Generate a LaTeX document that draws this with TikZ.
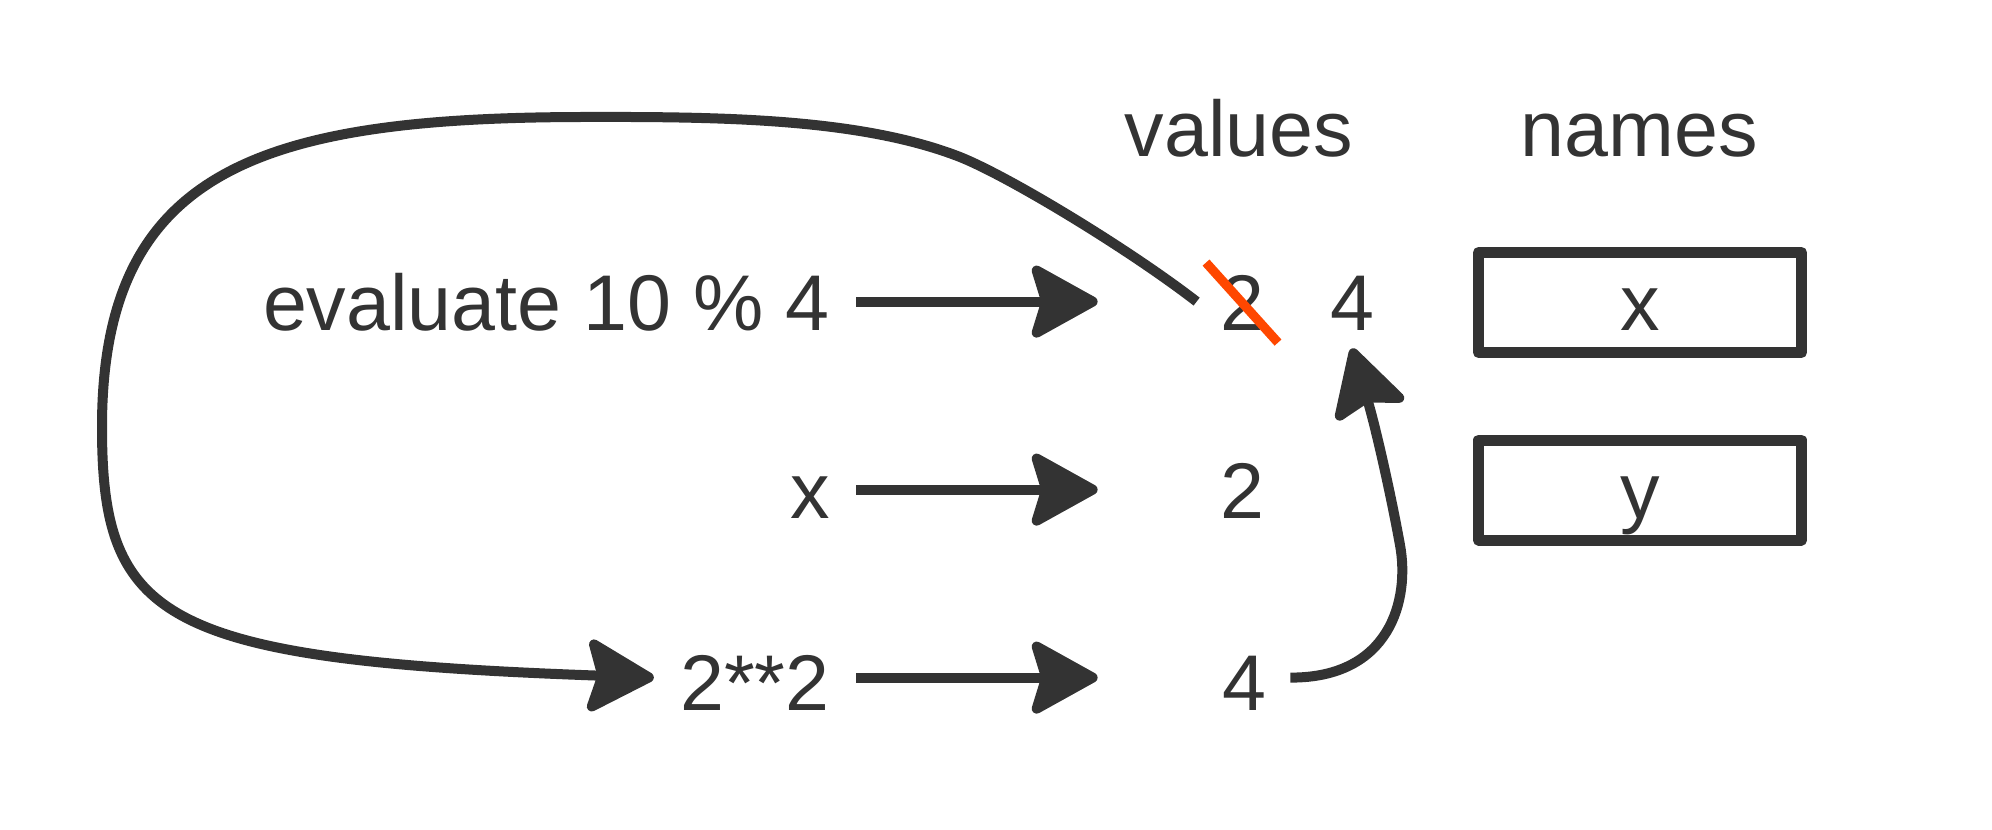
\documentclass[tikz,border=0pt]{standalone}
\usepackage{fontspec}
\setmainfont{Liberation Sans}
\usepackage{pgf,tikz}
\usetikzlibrary{arrows.meta}
\definecolor{zzzzzz}{rgb}{0.2,0.2,0.2}
\definecolor{ffuuqq}{rgb}{1.,0.28,0.}
\tikzset{
  lbl/.style={inner sep=0pt,text=zzzzzz,text height=28.4pt,text depth=0pt},
  namebox/.style={lbl,draw=zzzzzz,line width=5.5pt,minimum width=161.5pt,minimum height=50pt},
  link/.style={draw=zzzzzz,line width=5pt},
  strike/.style={draw=ffuuqq,line width=4.6pt,line cap=butt}
}
\begin{document}
\begin{tikzpicture}[line join=round,>={Stealth[length=37pt,width=40.5pt,inset=6pt,round]},x=0.5pt,y=-0.5pt,
  every node/.style={font=\fontsize{39.5pt}{47pt}\selectfont}]
	\useasboundingbox (0,0) rectangle (1992,830);
	% column heads
	\node[lbl,anchor=base] (hval) at (1239,156) {values};
	\node[lbl,anchor=base] (hnam) at (1639,156) {names};
	% expressions
	\node[lbl,anchor=base east] (eval) at (830,330) {evaluate 10 \% 4};
	\node[lbl,anchor=base east] (xref) at (830,518) {x};
	\node[lbl,anchor=base east] (pow) at (830,710) {2**2};
	% values
	\node[lbl,anchor=base] (vold) at (1242,330) {2};
	\node[lbl,anchor=base] (vnew) at (1352,330) {4};
	\node[lbl,anchor=base] (vtwo) at (1242,518) {2};
	\node[lbl,anchor=base] (vpow) at (1244,710) {4};
	% names
	\node[namebox] (namx) at (1640,302.5) {x};
	\node[namebox] (namy) at (1640,490) {y};
	\draw [strike] ([shift={(-36,-39)}]vold.center) -- ([shift={(36,41)}]vold.center);
	\draw [link,->] ([shift={(26,0)}]eval.east) -- ([shift={(-122,0)}]vold.west);
	\draw [link,->] ([shift={(26,0)}]xref.east) -- ([shift={(-122,0)}]vtwo.west);
	\draw [link,->] ([shift={(26,-4)}]pow.east) -- ([shift={(-124,-4)}]vpow.west);
	\draw [link,->] ([shift={(-23,0)}]vold.west) .. controls (1130,250) and (1010,177) .. (960,157)
		.. controls (860,118) and (720,116.6) .. (580,117)
		.. controls (260,118) and (102,170) .. (102,427)
		.. controls (102,620) and (160,660) .. ([shift={(-26,-4)}]pow.west);
	\draw [link,->] ([shift={(24,-4)}]vpow.east) .. controls (1390,678) and (1410,600) .. (1400,545)
		.. controls (1390,490) and (1375,425) .. ([shift={(0,18)}]vnew.south);
\end{tikzpicture}
\end{document}
